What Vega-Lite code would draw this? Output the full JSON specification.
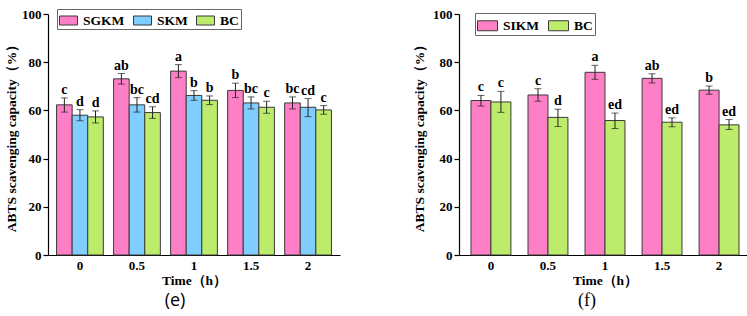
{
  "$schema": "https://vega.github.io/schema/vega-lite/v6.json",
  "background": "white",
  "padding": {"left": 4, "top": 8, "right": 4, "bottom": 2},
  "spacing": 72,
  "config": {
    "view": {"stroke": null},
    "font": "Liberation Serif",
    "title": {"font": "Liberation Serif", "color": "black"}
  },
  "datasets": {
    "e": [
      {"time": "0", "group": "SGKM", "mean": 62.3, "lo": 59.3, "hi": 65.2, "letter": "c"},
      {"time": "0", "group": "SKM", "mean": 58.0, "lo": 55.7, "hi": 60.3, "letter": "d"},
      {"time": "0", "group": "BC", "mean": 57.3, "lo": 54.8, "hi": 59.8, "letter": "d"},
      {"time": "0.5", "group": "SGKM", "mean": 73.1, "lo": 70.9, "hi": 75.3, "letter": "ab"},
      {"time": "0.5", "group": "SKM", "mean": 62.3, "lo": 59.3, "hi": 65.3, "letter": "bc"},
      {"time": "0.5", "group": "BC", "mean": 59.1, "lo": 56.7, "hi": 61.5, "letter": "cd"},
      {"time": "1", "group": "SGKM", "mean": 76.3, "lo": 73.6, "hi": 79.0, "letter": "a"},
      {"time": "1", "group": "SKM", "mean": 66.2, "lo": 64.2, "hi": 68.2, "letter": "b"},
      {"time": "1", "group": "BC", "mean": 64.2, "lo": 62.4, "hi": 66.0, "letter": "b"},
      {"time": "1.5", "group": "SGKM", "mean": 68.3, "lo": 65.3, "hi": 71.3, "letter": "b"},
      {"time": "1.5", "group": "SKM", "mean": 63.1, "lo": 60.6, "hi": 65.6, "letter": "bc"},
      {"time": "1.5", "group": "BC", "mean": 61.3, "lo": 58.8, "hi": 63.8, "letter": "c"},
      {"time": "2", "group": "SGKM", "mean": 63.1, "lo": 60.6, "hi": 65.6, "letter": "bc"},
      {"time": "2", "group": "SKM", "mean": 61.3, "lo": 57.4, "hi": 64.9, "letter": "cd"},
      {"time": "2", "group": "BC", "mean": 60.2, "lo": 58.4, "hi": 62.0, "letter": "c"}
    ],
    "f": [
      {"time": "0", "group": "SIKM", "mean": 64.1, "lo": 61.8, "hi": 66.2, "letter": "c"},
      {"time": "0", "group": "BC", "mean": 63.5, "lo": 59.2, "hi": 67.9, "letter": "c"},
      {"time": "0.5", "group": "SIKM", "mean": 66.4, "lo": 63.8, "hi": 69.0, "letter": "c"},
      {"time": "0.5", "group": "BC", "mean": 57.1, "lo": 53.3, "hi": 60.5, "letter": "d"},
      {"time": "1", "group": "SIKM", "mean": 75.8, "lo": 72.9, "hi": 78.7, "letter": "a"},
      {"time": "1", "group": "BC", "mean": 55.8, "lo": 52.5, "hi": 58.9, "letter": "ed"},
      {"time": "1.5", "group": "SIKM", "mean": 73.3, "lo": 71.4, "hi": 75.2, "letter": "ab"},
      {"time": "1.5", "group": "BC", "mean": 55.1, "lo": 53.2, "hi": 56.9, "letter": "ed"},
      {"time": "2", "group": "SIKM", "mean": 68.4, "lo": 66.7, "hi": 70.1, "letter": "b"},
      {"time": "2", "group": "BC", "mean": 54.0, "lo": 52.1, "hi": 56.2, "letter": "ed"}
    ]
  },
  "hconcat": [
    {
      "width": 292,
      "height": 241,
      "data": {"name": "e"},
      "title": {"text": "(e)", "orient": "bottom", "font": "Open Sans", "fontSize": 18, "fontWeight": "normal", "dx": -19, "offset": 5},
      "encoding": {
        "x": {
          "field": "time", "type": "nominal", "sort": ["0", "0.5", "1", "1.5", "2"],
          "scale": {"paddingInner": 0.18, "paddingOuter": 0.15},
          "axis": {"title": "Time（h）", "labelAngle": 0, "ticks": false, "domainColor": "black", "domainWidth": 1.2,
            "labelFont": "Liberation Serif", "labelFontWeight": "bold", "labelFontSize": 13, "labelColor": "black", "labelPadding": 4,
            "titleFont": "Liberation Serif", "titleFontWeight": "bold", "titleFontSize": 13.5, "titleColor": "black", "titlePadding": 1}
        },
        "xOffset": {"field": "group", "sort": ["SGKM", "SKM", "BC"], "scale": {"paddingInner": 0, "paddingOuter": 0}}
      },
      "layer": [
        {
          "mark": {"type": "bar", "stroke": "#3a3a3a", "strokeWidth": 1},
          "encoding": {
            "y": {
              "field": "mean", "type": "quantitative", "scale": {"domain": [0, 100]},
              "axis": {"title": "ABTS scavenging capacity（%）", "values": [0, 10, 20, 30, 40, 50, 60, 70, 80, 90, 100],
                "labelExpr": "datum.value % 20 == 0 ? datum.label : ''",
                "tickSize": {"condition": {"test": "datum.value % 20 == 0", "value": 5}, "value": 3},
                "grid": false, "domainColor": "black", "domainWidth": 1.2, "tickColor": "black", "tickWidth": 1.2,
                "labelFont": "Liberation Serif", "labelFontWeight": "bold", "labelFontSize": 13, "labelColor": "black", "labelPadding": 2,
                "titleFont": "Liberation Serif", "titleFontWeight": "bold", "titleFontSize": 13.5, "titleColor": "black", "titlePadding": 3}
            },
            "color": {
              "field": "group", "type": "nominal",
              "scale": {"domain": ["SGKM", "SKM", "BC"], "range": ["#ff7fc6", "#80cdff", "#bdeb6c"]},
              "legend": {"title": null, "orient": "none", "legendX": 9, "legendY": -5, "direction": "horizontal",
                "strokeColor": "#666", "padding": 2, "symbolType": "M-1,-0.5H1V0.5H-1Z", "symbolSize": 324,
                "symbolStrokeColor": "#3a3a3a", "symbolStrokeWidth": 1, "symbolOpacity": 1,
                "labelFont": "Liberation Serif", "labelFontWeight": "bold", "labelFontSize": 13.5, "labelColor": "black",
                "labelOffset": 5, "columnPadding": 6}
            }
          }
        },
        {
          "mark": {"type": "rule", "color": "#222", "strokeWidth": 1},
          "encoding": {"y": {"field": "lo", "type": "quantitative"}, "y2": {"field": "hi"}}
        },
        {
          "mark": {"type": "tick", "color": "#222", "size": 7, "thickness": 1},
          "encoding": {"y": {"field": "lo", "type": "quantitative"}}
        },
        {
          "mark": {"type": "tick", "color": "#222", "size": 7, "thickness": 1},
          "encoding": {"y": {"field": "hi", "type": "quantitative"}}
        },
        {
          "mark": {"type": "text", "baseline": "bottom", "dy": -1, "font": "Liberation Serif", "fontWeight": "bold", "fontSize": 14, "color": "black"},
          "encoding": {"y": {"field": "hi", "type": "quantitative"}, "text": {"field": "letter"}}
        }
      ]
    },
    {
      "width": 292,
      "height": 241,
      "data": {"name": "f"},
      "title": {"text": "(f)", "orient": "bottom", "font": "Liberation Serif", "fontSize": 18, "fontWeight": "normal", "dx": -18, "offset": 5},
      "encoding": {
        "x": {
          "field": "time", "type": "nominal", "sort": ["0", "0.5", "1", "1.5", "2"],
          "scale": {"paddingInner": 0.3, "paddingOuter": 0.21},
          "axis": {"title": "Time（h）", "labelAngle": 0, "ticks": false, "domainColor": "black", "domainWidth": 1.2,
            "labelFont": "Liberation Serif", "labelFontWeight": "bold", "labelFontSize": 13, "labelColor": "black", "labelPadding": 4,
            "titleFont": "Liberation Serif", "titleFontWeight": "bold", "titleFontSize": 13.5, "titleColor": "black", "titlePadding": 1}
        },
        "xOffset": {"field": "group", "sort": ["SIKM", "BC"], "scale": {"paddingInner": 0, "paddingOuter": 0}}
      },
      "layer": [
        {
          "mark": {"type": "bar", "stroke": "#3a3a3a", "strokeWidth": 1},
          "encoding": {
            "y": {
              "field": "mean", "type": "quantitative", "scale": {"domain": [0, 100]},
              "axis": {"title": "ABTS scavenging capacity（%）", "values": [0, 10, 20, 30, 40, 50, 60, 70, 80, 90, 100],
                "labelExpr": "datum.value % 20 == 0 ? datum.label : ''",
                "tickSize": {"condition": {"test": "datum.value % 20 == 0", "value": 5}, "value": 3},
                "grid": false, "domainColor": "black", "domainWidth": 1.2, "tickColor": "black", "tickWidth": 1.2,
                "labelFont": "Liberation Serif", "labelFontWeight": "bold", "labelFontSize": 13, "labelColor": "black", "labelPadding": 2,
                "titleFont": "Liberation Serif", "titleFontWeight": "bold", "titleFontSize": 13.5, "titleColor": "black", "titlePadding": 6}
            },
            "color": {
              "field": "group", "type": "nominal",
              "scale": {"domain": ["SIKM", "BC"], "range": ["#ff7fc6", "#bdeb6c"]},
              "legend": {"title": null, "orient": "none", "legendX": 16, "legendY": -1, "direction": "horizontal",
                "strokeColor": "#666", "padding": 2, "symbolType": "M-1,-0.5H1V0.5H-1Z", "symbolSize": 400,
                "symbolStrokeColor": "#3a3a3a", "symbolStrokeWidth": 1, "symbolOpacity": 1,
                "labelFont": "Liberation Serif", "labelFontWeight": "bold", "labelFontSize": 13.5, "labelColor": "black",
                "labelOffset": 5, "columnPadding": 6}
            }
          }
        },
        {
          "mark": {"type": "rule", "color": "#222", "strokeWidth": 1},
          "encoding": {"y": {"field": "lo", "type": "quantitative"}, "y2": {"field": "hi"}}
        },
        {
          "mark": {"type": "tick", "color": "#222", "size": 7, "thickness": 1},
          "encoding": {"y": {"field": "lo", "type": "quantitative"}}
        },
        {
          "mark": {"type": "tick", "color": "#222", "size": 7, "thickness": 1},
          "encoding": {"y": {"field": "hi", "type": "quantitative"}}
        },
        {
          "mark": {"type": "text", "baseline": "bottom", "dy": -1, "font": "Liberation Serif", "fontWeight": "bold", "fontSize": 14, "color": "black"},
          "encoding": {"y": {"field": "hi", "type": "quantitative"}, "text": {"field": "letter"}}
        }
      ]
    }
  ],
  "resolve": {"scale": {"color": "independent", "y": "independent", "x": "independent", "xOffset": "independent"}}
}
